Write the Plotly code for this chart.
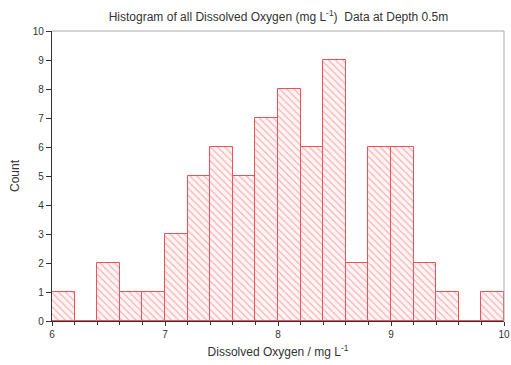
import plotly.graph_objects as go

bin_starts = [6.0, 6.2, 6.4, 6.6, 6.8, 7.0, 7.2, 7.4, 7.6, 7.8,
              8.0, 8.2, 8.4, 8.6, 8.8, 9.0, 9.2, 9.4, 9.6, 9.8]
counts = [1, 0, 2, 1, 1, 3, 5, 6, 5, 7, 8, 6, 9, 2, 6, 6, 2, 1, 0, 1]
bin_width = 0.2
centers = [b + bin_width / 2 for b in bin_starts]

fig = go.Figure()
fig.add_trace(go.Bar(
    x=centers, y=counts, width=[bin_width] * len(counts),
    marker=dict(
        color="rgba(255,240,240,1)",
        line=dict(color="#f0505a", width=1),
        pattern=dict(shape="\\", fgcolor="#f07078", bgcolor="#fff5f5",
                     size=5, solidity=0.25),
    ),
    showlegend=False,
))

fig.update_layout(
    width=511, height=365,
    margin=dict(l=52, r=7, t=31, b=44, autoexpand=False),
    paper_bgcolor="white", plot_bgcolor="white",
    font=dict(family="Liberation Sans, Arial, sans-serif", size=11, color="#333"),
    title=dict(text="Histogram of all Dissolved Oxygen (mg L<sup>-1</sup>)  Data at Depth 0.5m",
               x=0.545, xanchor="center", y=0.955, yanchor="middle",
               font=dict(size=12, color="#333")),
    bargap=0,
    xaxis=dict(range=[6, 10], tickvals=[6, 7, 8, 9, 10], ticks="outside",
               ticklen=4, tickcolor="#333", showline=True, linecolor="#333",
               linewidth=1.2, showgrid=False, zeroline=False, automargin=False,
               minor=dict(dtick=0.2, tick0=6, ticks="outside", ticklen=3, tickcolor="#333"),
               title=dict(text="Dissolved Oxygen / mg L<sup>-1</sup>", standoff=8,
                          font=dict(size=12, color="#333")),
               tickfont=dict(size=10, color="#333")),
    yaxis=dict(range=[0, 10], dtick=1, ticks="outside", ticklen=5,
               tickcolor="#333", showline=True, linecolor="#333", linewidth=1.2,
               showgrid=False, zeroline=False, automargin=False,
               title=dict(text="Count", standoff=10, font=dict(size=12, color="#333")),
               tickfont=dict(size=10, color="#333")),
    shapes=[
        dict(type="line", xref="paper", yref="paper", x0=0, x1=1, y0=1, y1=1,
             line=dict(color="#aaa", width=1)),
        dict(type="line", xref="paper", yref="paper", x0=1, x1=1, y0=0, y1=1,
             line=dict(color="#aaa", width=1)),
    ],
)

fig.write_html("out.html")
